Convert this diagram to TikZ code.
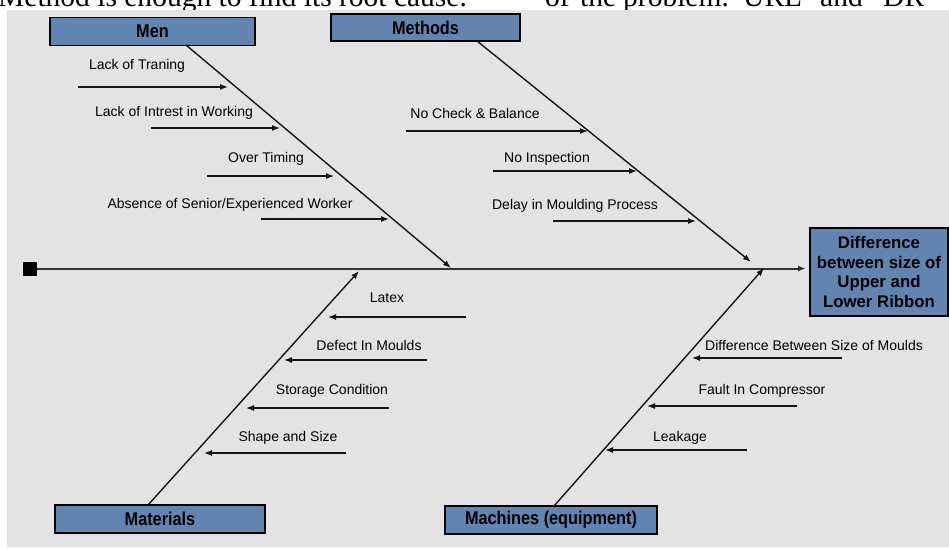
\documentclass[tikz,border=0pt]{standalone}
\usepackage{fontspec}
\setmainfont{Liberation Sans}
\newfontfamily\pagefont{Liberation Serif}
\newfontfamily\boxfont[FakeStretch=0.88]{Liberation Sans}
\usetikzlibrary{arrows.meta}
\definecolor{bggray}{RGB}{227,227,227}
\definecolor{boxblue}{RGB}{99,131,176}
\definecolor{linedark}{RGB}{20,20,20}
\begin{document}
\begin{tikzpicture}[x=1pt,y=-1pt,
  box/.style={draw=black,line width=1.2pt,fill=boxblue,inner sep=0pt,
    font=\boxfont\bfseries\fontsize{18.5}{20}\selectfont},
  cause/.style={font=\fontsize{14}{15}\selectfont,inner sep=0pt,anchor=center},
  pagetext/.style={font=\pagefont\fontsize{29.5}{30}\selectfont,inner sep=0pt,anchor=base west},
  bone/.style={line width=1.4pt,draw=linedark,-{Latex[length=8pt,width=6pt]}},
  subarrow/.style={line width=1.3pt,draw=linedark,-{Latex[length=8pt,width=6pt]}}]
\useasboundingbox (0,0) rectangle (949,549);
\fill[white] (0,0) rectangle (949,549);
% page text cut at the top
\node[pagetext] (p1) at (-2,6.5) {Method is enough to find its root cause.};
\node[pagetext] (p2) at (545,6.5) {of};
\node[pagetext] (p3) at (580,6.5) {the};
\node[pagetext] (p4) at (623,6.5) {problem.};
\node[pagetext] (p5) at (743,6.5) {URL};
\node[pagetext] (p6) at (820,6.5) {and};
\node[pagetext] (p7) at (883,6.5) {DR};
% background
\fill[bggray] (7,10) rectangle (949,547);
% category boxes
\node[box,minimum width=205pt,minimum height=28pt] (men) at (152.5,31.5) {Men};
\node[box,minimum width=189pt,minimum height=27pt] (methods) at (425.5,27.5) {Methods};
\node[box,minimum width=210pt,minimum height=28pt] (materials) at (160,519) {Materials};
\node[box,minimum width=212pt,minimum height=28pt] (machines) at (551,520) {Machines (equipment)};
\node[box,minimum width=138pt,minimum height=88pt,align=center,
  font=\bfseries\fontsize{16.8}{19.7}\selectfont] (effect) at (879,272)
  {Difference\\between size of\\Upper and\\Lower Ribbon};
% spine
\node[fill=black,minimum size=14pt,inner sep=0pt] (tail) at (29.5,268.5) {};
\coordinate (spineend) at (806,268.5);
\draw[line width=2pt,draw=black!80,-{Latex[length=8pt,width=6pt]}] (tail.east) -- (spineend);
% main bones
\coordinate (menA) at (186,45);
\coordinate (menB) at (451,268);
\draw[bone] (menA) -- (menB);
\coordinate (metA) at (477,41);
\coordinate (metB) at (751,262);
\draw[bone] (metA) -- (metB);
\coordinate (matA) at (148,505);
\coordinate (matB) at (359,271);
\draw[bone] (matA) -- (matB);
\coordinate (macA) at (554,506);
\coordinate (macB) at (764,268);
\draw[bone] (macA) -- (macB);
% Men causes
\node[cause] (m1) at (137,66) {Lack of Traning};
\coordinate (m1a) at (78,87); \coordinate (m1b) at (228,87);
\draw[subarrow] (m1a) -- (m1b);
\node[cause] (m2) at (174,113) {Lack of Intrest in Working};
\coordinate (m2a) at (151,128); \coordinate (m2b) at (280,128);
\draw[subarrow] (m2a) -- (m2b);
\node[cause] (m3) at (266,159) {Over Timing};
\coordinate (m3a) at (207,176); \coordinate (m3b) at (334,176);
\draw[subarrow] (m3a) -- (m3b);
\node[cause] (m4) at (230,205) {Absence of Senior/Experienced Worker};
\coordinate (m4a) at (261,219); \coordinate (m4b) at (389,219);
\draw[subarrow] (m4a) -- (m4b);
% Methods causes
\node[cause] (t1) at (475,113) {No Check \& Balance};
\coordinate (t1a) at (406,131); \coordinate (t1b) at (588,131);
\draw[subarrow] (t1a) -- (t1b);
\node[cause] (t2) at (547,159) {No Inspection};
\coordinate (t2a) at (493,171); \coordinate (t2b) at (637,171);
\draw[subarrow] (t2a) -- (t2b);
\node[cause] (t3) at (575,206) {Delay in Moulding Process};
\coordinate (t3a) at (553,221); \coordinate (t3b) at (696,221);
\draw[subarrow] (t3a) -- (t3b);
% Materials causes
\node[cause] (a1) at (387,298) {Latex};
\coordinate (a1a) at (466,317); \coordinate (a1b) at (328,317);
\draw[subarrow] (a1a) -- (a1b);
\node[cause] (a2) at (369,345) {Defect In Moulds};
\coordinate (a2a) at (427,360); \coordinate (a2b) at (284,360);
\draw[subarrow] (a2a) -- (a2b);
\node[cause] (a3) at (332,391) {Storage Condition};
\coordinate (a3a) at (389,408); \coordinate (a3b) at (246,408);
\draw[subarrow] (a3a) -- (a3b);
\node[cause] (a4) at (288,438) {Shape and Size};
\coordinate (a4a) at (346,453); \coordinate (a4b) at (204,453);
\draw[subarrow] (a4a) -- (a4b);
% Machines causes
\node[cause] (c1) at (814,345) {Difference Between Size of Moulds};
\coordinate (c1a) at (842,358); \coordinate (c1b) at (692,358);
\draw[subarrow] (c1a) -- (c1b);
\node[cause] (c2) at (762,391) {Fault In Compressor};
\coordinate (c2a) at (797,406); \coordinate (c2b) at (647,406);
\draw[subarrow] (c2a) -- (c2b);
\node[cause] (c3) at (680,438) {Leakage};
\coordinate (c3a) at (747,450); \coordinate (c3b) at (605,450);
\draw[subarrow] (c3a) -- (c3b);
\end{tikzpicture}
\end{document}
